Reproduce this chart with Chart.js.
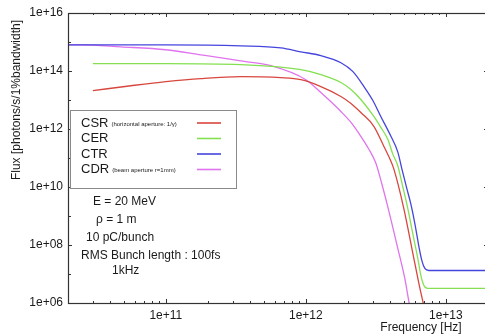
<!DOCTYPE html>
<html>
<head>
<meta charset="utf-8">
<script src="https://cdn.jsdelivr.net/npm/chart.js@4/dist/chart.umd.min.js"></script>
<style>
  html, body { margin: 0; padding: 0; background: #fff; overflow: hidden; }
  #wrap { width: 492px; height: 336px; }
</style>
</head>
<body>
<div id="wrap"><canvas id="myChart" width="492" height="336"></canvas></div>
<script>
// series names and legend notes
let seriesNames = ["CSR", "CER", "CTR", "CDR"];
let seriesNotes = ["(horizontal aperture: 1/\u03b3)", "", "", "(beam aperture r=1mm)"];

// values (Hz, photons/s/1%bw)
let csrFreq = [3.01e10, 5.62e10, 1e11, 1.78e11, 3.43e11, 6.63e11, 9.21e11, 1.28e12, 1.78e12, 2.10e12, 2.47e12, 3.06e12, 3.61e12, 4.05e12, 4.25e12, 5.01e12, 5.91e12, 6.42e12, 6.85e12, 7.31e12];
let csrFlux = [2.1e13, 3.1e13, 4.3e13, 5.5e13, 6.4e13, 5.9e13, 5.0e13, 2.9e13, 1.32e13, 7.6e12, 3.7e12, 1.24e12, 2.5e11, 7.8e10, 4.2e10, 1.8e9, 3.4e7, 4.7e6, 1.14e6, 3.0e5];

let cerFreq = [3.01e10, 1e11, 3.43e11, 9.21e11, 1.28e12, 1.78e12, 2.10e12, 2.47e12, 3.06e12, 3.43e12, 3.85e12, 4.18e12, 4.54e12, 4.93e12, 5.35e12, 5.81e12, 6.31e12, 6.63e12, 6.97e12, 7.43e12, 9.21e12, 2.03e13];
let cerFlux = [1.79e14, 1.79e14, 1.65e14, 1.11e14, 7.5e13, 4.0e13, 2.3e13, 1.04e13, 2.7e12, 1.14e12, 4.4e11, 1.36e11, 5.3e10, 1.0e10, 1.8e9, 2.4e8, 3.4e7, 8.9e6, 4.0e6, 3.2e6, 3.2e6, 3.2e6];

let ctrFreq = [2.03e10, 1e11, 3.43e11, 6.63e11, 9.21e11, 1.28e12, 1.78e12, 2.17e12, 2.60e12, 3.01e12, 3.43e12, 4.05e12, 4.54e12, 4.85e12, 5.27e12, 5.62e12, 6.01e12, 6.42e12, 6.74e12, 7.08e12, 7.56e12, 9.21e12, 2.03e13];
let ctrFlux = [8.0e14, 8.0e14, 7.4e14, 6.3e14, 4.6e14, 3.4e14, 1.93e14, 9.5e13, 2.9e13, 9.6e12, 2.7e12, 5.6e11, 1.6e11, 4.2e10, 8.6e9, 2.6e9, 5.4e8, 8.8e7, 2.9e7, 1.55e7, 1.32e7, 1.32e7, 1.32e7];

let cdrFreq = [2.03e10, 2.47e10, 4.77e10, 1e11, 1.78e11, 3.73e11, 5.62e11, 1.0e12, 1.28e12, 1.78e12, 2.10e12, 2.47e12, 2.82e12, 3.16e12, 3.49e12, 3.85e12, 4.54e12, 5.09e12, 5.44e12, 5.72e12];
let cdrFlux = [8.0e14, 8.0e14, 6.8e14, 5.4e14, 3.6e14, 2.1e14, 1.52e14, 5.0e13, 1.8e13, 4.0e12, 1.69e12, 5.6e11, 2.0e11, 6.7e10, 1.27e10, 2.07e9, 7.5e7, 7.0e6, 1.14e6, 3.0e5];

// axis ticks
let yTickValues = [1e6, 1e7, 1e8, 1e9, 1e10, 1e11, 1e12, 1e13, 1e14, 1e15, 1e16];
let yLabelValues = [1e6, 1e8, 1e10, 1e12, 1e14, 1e16];
let xLabelValues = [1e11, 1e12, 1e13];

let infoLines = ["E = 20 MeV", "\u03c1 = 1 m", "10 pC/bunch", "RMS Bunch length : 100fs", "1kHz"];

let lineColors = ["#d8473e", "#84e052", "#4545dd", "#e073ee"];
let fontName = "'Liberation Sans', Arial, sans-serif";

function toPoints(xs, ys) {
    return xs.map((x, i) => ({x: x, y: ys[i]}));
}

function expLabel(v) {
    let e = Math.round(Math.log10(v));
    return "1e+" + (e < 10 ? "0" : "") + e;
}

function xMinorTicks(min, max) {
    let out = [];
    for (let d = 10; d <= 13; d++) {
        for (let m = 1; m <= 9; m++) {
            let v = m * Math.pow(10, d);
            if (v >= min * 0.999 && v <= max * 1.001) out.push(v);
        }
    }
    return out;
}

// frame with gnuplot-style inward ticks on all four sides
const framePlugin = {
    id: "frame",
    afterDatasetsDraw(chart) {
        const {ctx, chartArea: a, scales: {x, y}} = chart;
        ctx.save();
        ctx.strokeStyle = "#333";
        ctx.lineWidth = 1;
        ctx.beginPath();
        x.ticks.forEach(t => {
            let px = Math.round(x.getPixelForValue(t.value)) + 0.5;
            let len = xLabelValues.includes(t.value) ? 4 : 2;
            ctx.moveTo(px, a.bottom); ctx.lineTo(px, a.bottom - len);
            ctx.moveTo(px, a.top); ctx.lineTo(px, a.top + len);
        });
        y.ticks.forEach(t => {
            let py = Math.round(y.getPixelForValue(t.value)) + 0.5;
            let len = yLabelValues.includes(t.value) ? 4 : 3;
            ctx.moveTo(a.left, py); ctx.lineTo(a.left + len, py);
            ctx.moveTo(a.right, py); ctx.lineTo(a.right - len, py);
        });
        ctx.stroke();
        ctx.lineWidth = 1.2;
        ctx.strokeRect(Math.round(a.left) + 0.5, Math.round(a.top) + 0.5,
            Math.round(a.right - a.left), Math.round(a.bottom - a.top));

        // legend box
        let bx = a.left + 2, by = 110, bw = 166, bh = 78;
        ctx.fillStyle = "#fff";
        ctx.fillRect(bx, by, bw, bh);
        ctx.strokeStyle = "#8a8a8a";
        ctx.lineWidth = 1;
        ctx.strokeRect(bx + 0.5, by + 0.5, bw, bh);
        ctx.textBaseline = "middle";
        ctx.textAlign = "left";
        chart.data.datasets.forEach((ds, i) => {
            let ry = 123 + i * 15.5;
            ctx.fillStyle = "#1a1a1a";
            ctx.font = "13px " + fontName;
            ctx.fillText(seriesNames[i], 81, ry);
            let w = ctx.measureText(seriesNames[i]).width;
            if (seriesNotes[i]) {
                ctx.font = "6px " + fontName;
                ctx.fillText(seriesNotes[i], 81 + w + 3, ry + 1);
            }
            ctx.strokeStyle = ds.borderColor;
            ctx.lineWidth = 1.6;
            ctx.beginPath();
            ctx.moveTo(197, ry); ctx.lineTo(221, ry);
            ctx.stroke();
        });

        // beam parameters
        ctx.fillStyle = "#1a1a1a";
        ctx.font = "12px " + fontName;
        let infoX = [93, 96, 86, 81, 112];
        let infoY = [202, 220, 238, 256, 271];
        infoLines.forEach((s, i) => ctx.fillText(s, infoX[i], infoY[i]));

        // axis titles
        ctx.textAlign = "center";
        ctx.fillText("Frequency [Hz]", 421, 328);
        ctx.translate(17, 100);
        ctx.rotate(-Math.PI / 2);
        ctx.fillText("Flux [photons/s/1%bandwidth]", 0, 0);
        ctx.restore();
    }
};

let datasets = [
    toPoints(csrFreq, csrFlux),
    toPoints(cerFreq, cerFlux),
    toPoints(ctrFreq, ctrFlux),
    toPoints(cdrFreq, cdrFlux)
].map((pts, i) => ({
    label: seriesNames[i],
    data: pts,
    borderColor: lineColors[i],
    borderWidth: 1.3,
    pointRadius: 0,
    fill: false,
    cubicInterpolationMode: "monotone"
}));

new Chart("myChart", {
    type: "line",
    data: {datasets: datasets},
    options: {
        responsive: false,
        animation: false,
        layout: {padding: {top: 13, right: 4, left: 0, bottom: 0}},
        plugins: {legend: {display: false}, tooltip: {enabled: false}},
        scales: {
            x: {
                type: "logarithmic",
                min: 2e10,
                max: 2e13,
                // ticks stop at 1e13 so no label padding is reserved at the right edge
                afterBuildTicks: s => { s.ticks = xMinorTicks(2e10, 1e13).map(v => ({value: v})); },
                afterFit: s => { s.height = 33; },
                grid: {display: false, drawTicks: false},
                border: {display: false},
                ticks: {
                    autoSkip: false, maxRotation: 0, minRotation: 0, padding: 5,
                    color: "#1a1a1a", font: {family: fontName, size: 12},
                    callback: v => xLabelValues.includes(v) ? expLabel(v) : ""
                }
            },
            y: {
                type: "logarithmic",
                min: 1e6,
                max: 1e16,
                afterBuildTicks: s => { s.ticks = yTickValues.map(v => ({value: v})); },
                afterFit: s => { s.width = 68; },
                grid: {display: false, drawTicks: false},
                border: {display: false},
                ticks: {
                    autoSkip: false, padding: 5,
                    color: "#1a1a1a", font: {family: fontName, size: 12},
                    callback: v => yLabelValues.includes(v) ? expLabel(v) : ""
                }
            }
        }
    },
    plugins: [framePlugin]
});
</script>
</body>
</html>
